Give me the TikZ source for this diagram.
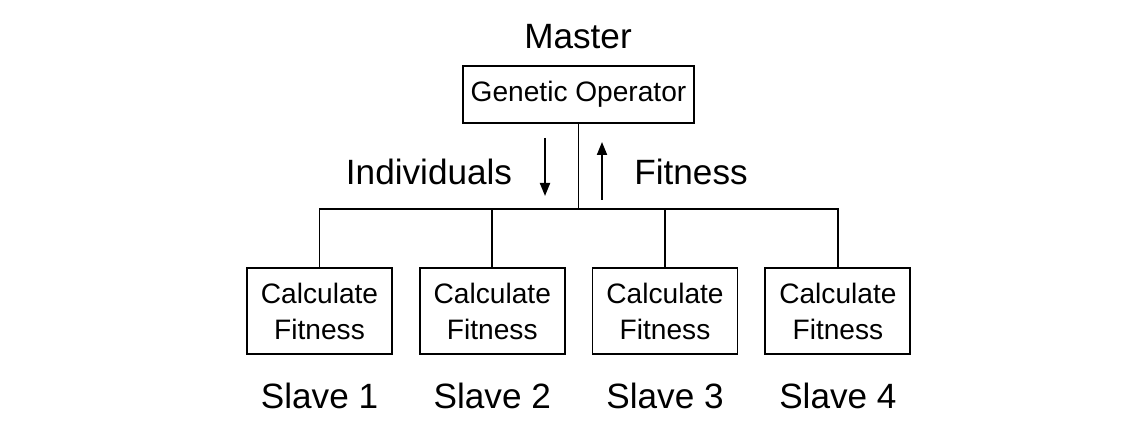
\documentclass[tikz,border=0pt]{standalone}
\usepackage{fontspec}
\setmainfont{Liberation Sans}
\usetikzlibrary{arrows.meta}

\begin{document}
\begin{tikzpicture}[
  line width=1.1pt,
  bigtext/.style={font=\fontsize{20}{24}\selectfont},
  opbox/.style={rectangle, draw, inner sep=0pt, minimum width=4.62cm, minimum height=1.14cm, font=\fontsize{16}{19}\selectfont},
  calcbox/.style={rectangle, draw, inner sep=0pt, minimum width=2.9cm, minimum height=1.72cm, align=center, font=\fontsize{16}{20.5}\selectfont},
  flow/.style={-{Triangle[length=0.26cm, width=0.2cm]}}
]
  \useasboundingbox (0,0) rectangle (22.9,8.7);

  % master side
  \node[bigtext] (master) at (11.56,7.96) {Master};
  \node[opbox] (genop) at (11.57,6.81) {Genetic Operator};

  % slaves
  \foreach \i/\x in {1/6.39, 2/9.846, 3/13.30, 4/16.758} {
    \node[calcbox] (calc\i) at (\x,2.48) {Calculate\\Fitness};
    \node[bigtext] (slave\i) at (\x,0.78) {Slave \i};
  }

  % bus
  \coordinate (hub) at (genop.south |- 0,4.52);
  \draw (genop.south) -- (hub);
  \draw (calc1.north) -- (calc1.north |- hub) -- (calc4.north |- hub) -- (calc4.north);
  \foreach \i in {2,3}
    \draw (calc\i.north) -- (calc\i.north |- hub);

  % arrows and their labels
  \coordinate (downtop) at (10.9,5.94);
  \coordinate (downend) at (10.9,4.78);
  \coordinate (uptail) at (12.04,4.70);
  \coordinate (uptop) at (12.04,5.86);
  \draw[flow] (downtop) -- (downend);
  \draw[flow] (uptail) -- (uptop);
  \node[bigtext] (indiv) at (8.58,5.26) {Individuals};
  \node[bigtext] (fitness) at (13.82,5.26) {Fitness};
\end{tikzpicture}
\end{document}
